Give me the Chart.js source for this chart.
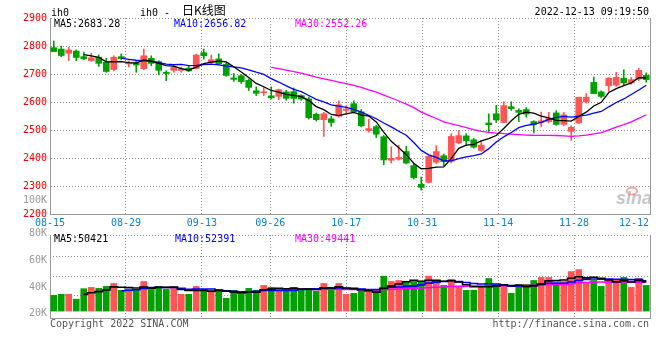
<!DOCTYPE html>
<html><head><meta charset="utf-8">
<script src="https://cdn.jsdelivr.net/npm/chart.js"></script>
<style>
html,body{margin:0;padding:0;background:#fff;width:660px;height:360px;overflow:hidden}
canvas{position:absolute;left:0}
#k{top:0}
#v{top:226px}
</style></head><body>
<canvas id="k" width="660" height="226"></canvas>
<canvas id="v" width="660" height="134"></canvas>
<script>
// ---- data ----
const dates = [
 '08-15','08-16','08-17','08-18','08-19','08-22','08-23','08-24','08-25','08-26',
 '08-29','08-30','08-31','09-01','09-02','09-05','09-06','09-07','09-08','09-09',
 '09-13','09-14','09-15','09-16','09-19','09-20','09-21','09-22','09-23','09-26',
 '09-27','09-28','09-29','09-30','10-10','10-11','10-12','10-13','10-14','10-17',
 '10-18','10-19','10-20','10-21','10-24','10-25','10-26','10-27','10-28','10-31',
 '11-01','11-02','11-03','11-04','11-07','11-08','11-09','11-10','11-11','11-14',
 '11-15','11-16','11-17','11-18','11-21','11-22','11-23','11-24','11-25','11-28',
 '11-29','11-30','12-01','12-02','12-05','12-06','12-07','12-08','12-09','12-12'];
const opens = [
 2794,2789,2774,2782,2762,2748,2760,2742,2716,2762,
 2736,2739,2719,2756,2744,2706,2713,2713,2721,2720,
 2776,2741,2754,2735,2686,2694,2677,2640,2633,2622,
 2620,2636,2637,2623,2611,2556,2537,2540,2549,2570,
 2594,2565,2498,2512,2476,2392,2396,2423,2373,2306,
 2313,2385,2408,2388,2454,2479,2465,2427,2525,2558,
 2527,2583,2570,2573,2530,2527,2530,2561,2520,2495,
 2525,2600,2670,2636,2658,2660,2685,2668,2682,2695];
const highs = [
 2818,2800,2795,2786,2778,2774,2768,2756,2765,2772,
 2747,2745,2789,2765,2748,2712,2732,2725,2729,2771,
 2789,2768,2772,2741,2702,2698,2682,2654,2652,2654,
 2646,2642,2650,2626,2618,2561,2563,2549,2604,2587,
 2604,2573,2539,2517,2480,2440,2446,2442,2380,2332,
 2408,2444,2414,2487,2498,2487,2470,2462,2558,2588,
 2601,2601,2576,2580,2533,2564,2563,2569,2563,2515,
 2617,2630,2689,2640,2687,2706,2715,2688,2721,2704];
const lows = [
 2780,2762,2748,2748,2751,2745,2727,2706,2711,2751,
 2725,2706,2715,2729,2698,2676,2706,2706,2708,2718,
 2753,2738,2733,2692,2674,2666,2641,2623,2623,2611,
 2608,2606,2596,2606,2539,2532,2477,2513,2546,2561,
 2561,2511,2492,2473,2376,2382,2392,2379,2325,2285,
 2311,2380,2373,2382,2451,2444,2435,2424,2492,2527,
 2525,2570,2530,2546,2489,2511,2525,2517,2515,2463,
 2523,2596,2630,2615,2638,2656,2660,2663,2676,2671];
const closes = [
 2780,2766,2786,2759,2754,2758,2738,2709,2760,2755,
 2740,2732,2765,2738,2713,2702,2724,2718,2711,2768,
 2765,2751,2736,2695,2681,2673,2652,2631,2635,2615,
 2644,2613,2613,2611,2544,2537,2558,2527,2590,2575,
 2565,2515,2505,2485,2393,2399,2402,2382,2330,2295,
 2406,2423,2387,2477,2480,2462,2439,2446,2519,2536,
 2587,2576,2563,2557,2520,2533,2542,2520,2554,2510,
 2617,2617,2630,2620,2685,2688,2668,2680,2713,2680];
const volumes = [
 27100,28800,28800,20300,38400,40600,38900,42300,47400,35600,
 37200,35600,50800,37200,42300,37200,38900,28800,28800,42300,
 37200,33900,35600,22000,35600,28800,38900,35600,44000,40600,
 37200,33900,40600,37200,38900,33900,47400,40600,47400,28800,
 30500,33900,32200,37200,59800,50800,52500,50800,50800,50800,
 59800,50800,44000,54200,40600,35600,35600,42300,55900,45700,
 44000,30500,45700,45700,52500,57600,57600,47400,50800,67700,
 71100,47400,52500,42300,54200,54200,57600,40600,55900,44000];
const tickDates = ['08-15','08-29','09-13','09-26','10-17','10-31','11-14','11-28','12-12'];
const priceTicks = [2200,2300,2400,2500,2600,2700,2800,2900];
const volTicks = [20000,40000,60000,80000];
const priceMaText = ['MA5:2683.28','MA10:2656.82','MA30:2552.26'];
const volMaText = ['MA5:50421','MA10:52391','MA30:49441'];

// ---- derived ----
function movingAvg(arr, n){
  return arr.map((_, i) => {
    if (i < n - 1) return null;
    let s = 0; for (let j = i - n + 1; j <= i; j++) s += arr[j];
    return s / n;
  });
}
const UP = '#ff5555', DOWN = '#00a000';
const candleColors = closes.map((c, i) => c >= opens[i] ? UP : DOWN);
const tickIdx = tickDates.map(d => dates.indexOf(d));
const gridIdx = tickIdx.filter(i => i > 0 && i < dates.length - 1);
const MONO = '"DejaVu Sans Mono", "Liberation Mono", monospace';
const GRID = '#8c8c8c', AXIS = '#999999';
const maColors = ['#000000', '#0000ff', '#ff00ff'];

Chart.defaults.font.family = MONO;
Chart.defaults.font.size = 10;

function maSet(data, color, width, stepped){
  return {type:'line', data, borderColor:color, borderWidth:width, pointRadius:0,
          pointHoverRadius:0, fill:false, tension:0, stepped: stepped || false,
          xAxisID:'x', spanGaps:false};
}
const xgAxis = {
  type:'category', position:'top', offset:false,
  grid:{offset:false, drawTicks:false, lineWidth:1,
        color: c => gridIdx.includes(c.index) ? GRID : 'rgba(0,0,0,0)'},
  border:{display:false, dash:[1,2]}, ticks:{display:false},
  afterFit(s){ s.height = 0; }
};

const kPlugin = {
  id:'kText',
  beforeDatasetsDraw(chart){
    const ctx = chart.ctx, a = chart.chartArea;
    ctx.save();
    ctx.font = 'italic bold 18px "Liberation Sans", Arial';
    ctx.fillStyle = 'rgba(150,150,150,0.55)';
    ctx.textAlign = 'right'; ctx.textBaseline = 'alphabetic';
    ctx.fillText('sina', a.right + 2, 204);
    ctx.strokeStyle = 'rgba(240,110,110,0.6)'; ctx.lineWidth = 2;
    ctx.beginPath(); ctx.ellipse(632, 191, 5, 3.5, 0, 0, Math.PI * 2); ctx.stroke();
    ctx.restore();
  },
  afterDraw(chart){
    const ctx = chart.ctx, a = chart.chartArea;
    const xg = chart.scales.xg, y = chart.scales.y;
    ctx.save();
    ctx.strokeStyle = AXIS; ctx.lineWidth = 1;
    ctx.beginPath(); ctx.moveTo(a.right + 0.5, a.top); ctx.lineTo(a.right + 0.5, a.bottom); ctx.stroke();
    ctx.font = '10px ' + MONO; ctx.textBaseline = 'alphabetic';
    ctx.fillStyle = '#000'; ctx.textAlign = 'left';
    ctx.fillText('ih0', a.left + 1, 15.5);
    ctx.fillText('ih0 -', 140, 15.5);
    ctx.font = '12px "Noto Sans CJK SC"';
    ctx.fillText('日K线图', 182, 15);
    ctx.font = '10px ' + MONO;
    ctx.textAlign = 'right';
    ctx.fillText('2022-12-13 09:19:50', a.right - 1, 15);
    ctx.textAlign = 'left';
    const maX = [54, 174, 295];
    priceMaText.forEach((t, i) => { ctx.fillStyle = maColors[i]; ctx.fillText(t, maX[i], 27.3); });
    ctx.fillStyle = '#999'; ctx.textAlign = 'right'; ctx.textBaseline = 'middle';
    ctx.fillText('100K', a.left - 3, y.getPixelForValue(2250));
    ctx.fillStyle = '#0a84d0'; ctx.textAlign = 'left'; ctx.textBaseline = 'alphabetic';
    tickIdx.forEach((idx, k) => {
      const t = tickDates[k];
      const w = ctx.measureText(t).width;
      let x = xg.getPixelForValue(idx) - w / 2;
      if (x + w > a.right - 1) x = a.right - 1 - w;
      ctx.fillText(t, x, a.bottom + 11.5);
    });
    ctx.restore();
  }
};

new Chart(document.getElementById('k'), {
  type:'bar',
  data:{
    labels: dates,
    datasets:[
      maSet(movingAvg(closes, 5), maColors[0], 1.3),
      maSet(movingAvg(closes, 10), maColors[1], 1.3),
      maSet(movingAvg(closes, 30), maColors[2], 1.3),
      {data: opens.map((o, i) => [o, closes[i]]), backgroundColor: candleColors,
       barThickness:6, grouped:false, minBarLength:1, xAxisID:'x'},
      {data: lows.map((l, i) => [l, highs[i]]), backgroundColor: candleColors,
       barThickness:1, grouped:false, xAxisID:'x'}
    ]
  },
  options:{
    responsive:false, animation:false, devicePixelRatio:1, events:[],
    layout:{padding:{top:18, right:10, left:0, bottom:0}},
    plugins:{legend:{display:false}, tooltip:{enabled:false}, title:{display:false}},
    scales:{
      x:{type:'category', offset:true, grid:{display:false},
         border:{display:true, color:AXIS, width:1}, ticks:{display:false},
         afterFit(s){ s.height = 12; }},
      xg: xgAxis,
      y:{type:'linear', min:2200, max:2900,
         afterBuildTicks(s){ s.ticks = priceTicks.map(v => ({value:v})); },
         ticks:{color:'#ee0000', padding:3, font:{family:MONO, size:10}, callback: v => String(v)},
         grid:{color:GRID, drawTicks:false, lineWidth:1},
         border:{display:true, color:AXIS, width:1, dash:[1,2]},
         afterFit(s){ s.width = 50; }}
    }
  },
  plugins:[kPlugin]
});

const vPlugin = {
  id:'vText',
  afterDraw(chart){
    const ctx = chart.ctx, a = chart.chartArea;
    ctx.save();
    ctx.strokeStyle = AXIS; ctx.lineWidth = 1;
    ctx.beginPath(); ctx.moveTo(a.right + 0.5, a.top); ctx.lineTo(a.right + 0.5, a.bottom); ctx.stroke();
    ctx.font = '10px ' + MONO; ctx.textBaseline = 'alphabetic'; ctx.textAlign = 'left';
    const maX = [54, 175, 295];
    volMaText.forEach((t, i) => { ctx.fillStyle = maColors[i]; ctx.fillText(t, maX[i], 16.3); });
    ctx.fillStyle = '#555';
    ctx.fillText('Copyright 2022 SINA.COM', a.left, 101.3);
    ctx.textAlign = 'right';
    ctx.fillText('http://finance.sina.com.cn', a.right - 1, 101.3);
    ctx.restore();
  }
};

new Chart(document.getElementById('v'), {
  type:'bar',
  data:{
    labels: dates,
    datasets:[
      Object.assign(maSet(movingAvg(volumes, 5), maColors[0], 1.6, 'middle'), {yAxisID:'yv'}),
      Object.assign(maSet(movingAvg(volumes, 10), maColors[1], 1.6, 'middle'), {yAxisID:'yv'}),
      Object.assign(maSet(movingAvg(volumes, 30), maColors[2], 1.6, 'middle'), {yAxisID:'yv'}),
      {data: volumes, backgroundColor: candleColors, barThickness:6, grouped:false,
       xAxisID:'x', yAxisID:'yv'}
    ]
  },
  options:{
    responsive:false, animation:false, devicePixelRatio:1, events:[],
    layout:{padding:{top:8, right:10, left:0, bottom:0}},
    plugins:{legend:{display:false}, tooltip:{enabled:false}, title:{display:false}},
    scales:{
      x:{type:'category', offset:true, grid:{display:false},
         border:{display:true, color:AXIS, width:1}, ticks:{display:false},
         afterFit(s){ s.height = 42; }},
      xg: xgAxis,
      yv:{type:'linear', position:'left', min:-11850, max:130400,
          afterBuildTicks(s){ s.ticks = [26000, 60000, 94000, 130400].map(v => ({value:v})); },
          ticks:{display:false},
          grid:{color:GRID, drawTicks:false, lineWidth:1},
          border:{display:false, dash:[1,2]},
          afterFit(s){ s.width = 0; }},
      yl:{type:'linear', position:'left', min:16900, max:78970,
          afterBuildTicks(s){ s.ticks = volTicks.map(v => ({value:v})); },
          ticks:{color:'#999', padding:3, font:{family:MONO, size:10},
                 callback: v => (v / 1000) + 'K'},
          grid:{display:false, drawTicks:false},
          border:{display:true, color:AXIS, width:1},
          afterFit(s){ s.width = 50; }}
    }
  },
  plugins:[vPlugin]
});
</script>
</body></html>
